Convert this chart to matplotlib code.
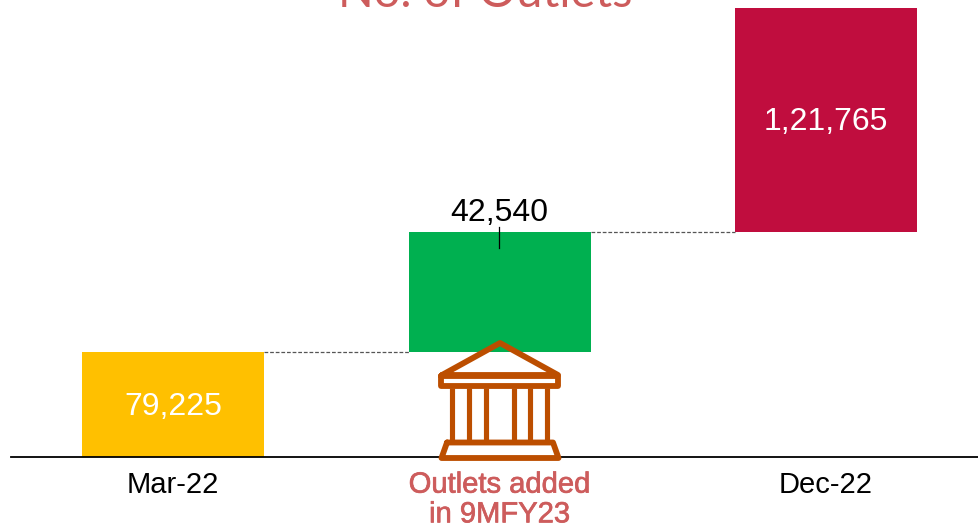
#!/usr/bin/env python3
"""Outlet count walk from Mar-22 to Dec-22, with a bank icon on the middle step."""

import matplotlib

matplotlib.use("Agg")

import matplotlib.patheffects as pe
import matplotlib.pyplot as plt
import numpy as np

categories = ["Mar-22", "Outlets added\nin 9MFY23", "Dec-22"]
values = [79225, 42540, 121765]
value_labels = ["79,225", "42,540", "1,21,765"]
bar_colors = ["#FFC000", "#00B050", "#C00D3E"]

TITLE_COLOR = "#CD5C5C"
ICON_COLOR = "#BC4E00"

plt.rcParams["font.family"] = ["Liberation Sans", "DejaVu Sans"]

W, H = 979, 527
BASE_PX = 457
fig = plt.figure(figsize=(W / 100, H / 100), dpi=100)

# each step of the walk gets its own stretch of the y axis
cum = [0, values[0], values[0] + values[1], values[0] + values[1] + values[2]]
knots_val = np.array(cum + [250000], dtype=float)
knots_px = np.array([0, 105, 225, 449, 457], dtype=float)

ax = fig.add_axes([0, (H - BASE_PX) / H, 1, BASE_PX / H])
ax.set_yscale(
    "function",
    functions=(
        lambda v: np.interp(v, knots_val, knots_px),
        lambda p: np.interp(p, knots_px, knots_val),
    ),
)
ax.set_ylim(0, 250000)
ax.set_xlim(-173.3 / 326.5, (W - 173.3) / 326.5)
ax.axis("off")

x = np.arange(len(values))
width = 182 / 326.5
bottoms = [0, values[0], values[0] + values[1]]
ax.bar(x, values, width, bottom=bottoms, color=bar_colors, linewidth=0, zorder=2)

# dashed connectors between the steps
for i in range(len(values) - 1):
    level = bottoms[i] + values[i]
    ax.plot([x[i] + width / 2, x[i + 1] - width / 2], [level, level],
            color="#555555", lw=0.9, ls=(0, (3, 1.5)), zorder=1)

# full-figure overlay in pixels for the baseline, icon and text
ov = fig.add_axes([0, 0, 1, 1], facecolor="none")
ov.set_xlim(0, W)
ov.set_ylim(H, 0)
ov.axis("off")

ov.plot([11, W], [457, 457], color="black", lw=1.3, zorder=2)
ov.plot([499.5, 499.5], [227, 248], color="black", lw=0.9, zorder=4)

# bank building icon
ICON_LW = 4.2
icon_style = dict(color=ICON_COLOR, lw=ICON_LW, solid_joinstyle="round",
                  solid_capstyle="round", zorder=5)
ov.fill([441, 559, 559, 441], [376, 376, 386, 386], color="white", zorder=3)
ov.fill([441, 559, 553, 447], [458, 458, 443, 443], color="white", zorder=3)
ov.plot([442, 500, 558, 442], [375, 343, 375, 375], **icon_style)
ov.plot([441.5, 558.5, 558.5, 441.5, 441.5], [376, 376, 386, 386, 376], **icon_style)
for cx in [452.3, 469, 485.7, 513.7, 530.3, 547]:
    ov.plot([cx, cx], [388, 441], color=ICON_COLOR, lw=3.7, solid_capstyle="butt", zorder=5)
ov.plot([447, 553, 558.5, 441.5, 447], [442.5, 442.5, 458, 458, 442.5], **icon_style)

# value labels
ov.text(173, 407, value_labels[0], color="white", fontsize=23, ha="center", va="center", zorder=6)
ov.text(499, 213, value_labels[1], color="black", fontsize=23, ha="center", va="center", zorder=6)
ov.text(826, 122, value_labels[2], color="white", fontsize=23, ha="center", va="center", zorder=6)

# category labels
ov.text(173, 485, categories[0], color="black", fontsize=21, ha="center", va="center")
ov.text(826, 485, categories[2], color="black", fontsize=21, ha="center", va="center")
ov.text(499.5, 499.5, categories[1], color=TITLE_COLOR, fontsize=21, ha="center", va="center",
        linespacing=1.08, path_effects=[pe.withStroke(linewidth=0.5, foreground=TITLE_COLOR)])

# heading runs off the top edge
ov.text(485, 7, "No. of Outlets", color=TITLE_COLOR, fontsize=33.8, family="Lato",
        ha="center", va="baseline", clip_on=False)

fig.savefig("out.png", dpi=100)
